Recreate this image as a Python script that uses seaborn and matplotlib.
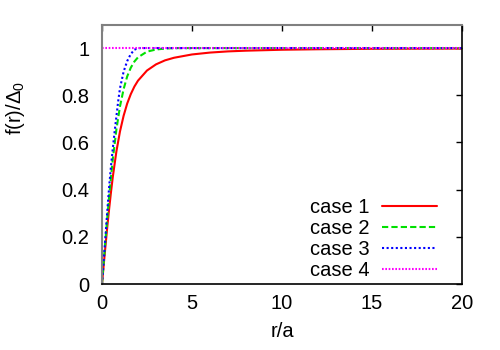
import matplotlib
matplotlib.use("Agg")
import matplotlib.pyplot as plt
import seaborn as sns
import pandas as pd

# ---- data ----
r_case1 = [0, 0.1, 0.2, 0.3, 0.4, 0.5, 0.6, 0.8, 1.0, 1.2, 1.4, 1.6, 1.8, 2.0,
           2.5, 3.0, 3.5, 4.0, 5.0, 6.0, 7.0, 8.0, 10.0, 12.0, 15.0, 20.0]
f_case1 = [0, 0.085, 0.167, 0.247, 0.321, 0.390, 0.454, 0.562, 0.647, 0.713,
           0.765, 0.805, 0.837, 0.862, 0.905, 0.931, 0.948, 0.959, 0.973,
           0.981, 0.986, 0.989, 0.993, 0.995, 0.997, 0.998]

r_case2 = [0, 0.1, 0.2, 0.3, 0.4, 0.5, 0.6, 0.8, 1.0, 1.2, 1.4, 1.6, 1.8, 2.0,
           2.5, 3.0, 3.5, 4.0, 20.0]
f_case2 = [0, 0.098, 0.194, 0.286, 0.373, 0.454, 0.529, 0.655, 0.753, 0.826,
           0.880, 0.917, 0.943, 0.961, 0.985, 0.994, 0.998, 1.0, 1.0]

r_case3 = [0, 0.1, 0.2, 0.3, 0.4, 0.5, 0.6, 0.7, 0.8, 0.9, 1.0, 1.2, 1.4, 1.6,
           1.8, 2.0, 20.0]
f_case3 = [0, 0.105, 0.21, 0.315, 0.415, 0.50, 0.575, 0.645, 0.71, 0.775,
           0.83, 0.90, 0.945, 0.975, 0.993, 1.0, 1.0]

r_case4 = [0, 20.0]
f_case4 = [1.0, 1.0]

labels = ["case 1", "case 2", "case 3", "case 4"]
colors = ["#ff0000", "#00e000", "#0000ff", "#ff00ff"]
styles = ["-", (0, (3, 1.5)), (0, (1, 1.2)), (0, (0.8, 0.8))]

x_ticks = [0, 5, 10, 15, 20]
y_ticks = [0, 0.2, 0.4, 0.6, 0.8, 1.0]
y_tick_labels = ["0", "0.2", "0.4", "0.6", "0.8", "1"]

FS = 14.5

sns.set_theme(style="white")
plt.rcParams["font.family"] = ["Liberation Sans", "DejaVu Sans"]
plt.rcParams["mathtext.fontset"] = "custom"
plt.rcParams["mathtext.rm"] = "Liberation Sans"
plt.rcParams["mathtext.it"] = "Liberation Sans"

fig = plt.figure(figsize=(5, 3.5), dpi=100)
ax = fig.add_axes([102 / 500, 1 - 284 / 350, 360 / 500, (284 - 24.5) / 350])

series = [(r_case1, f_case1), (r_case2, f_case2), (r_case3, f_case3), (r_case4, f_case4)]
for (rr, ff), lab, col, ls in zip(series, labels, colors, styles):
    df = pd.DataFrame({"r": rr, "f": ff})
    sns.lineplot(data=df, x="r", y="f", ax=ax, color=col, linestyle=ls,
                 linewidth=1.5, label=lab)

ax.set_xlim(0, 20)
ax.set_ylim(0, 1.1)
ax.set_xticks(x_ticks)
ax.set_xticklabels([str(t) for t in x_ticks])
ax.set_yticks(y_ticks)
ax.set_yticklabels(y_tick_labels)
ax.tick_params(direction="in", length=4, width=1, color="black",
               top=True, right=True, labelsize=FS, labelcolor="black")
ax.tick_params(axis="y", pad=9)
ax.tick_params(axis="x", pad=7)

for side in ["left", "top"]:
    ax.spines[side].set_color("#808080")
    ax.spines[side].set_linewidth(1.5)
for side in ["right", "bottom"]:
    ax.spines[side].set_color("black")
    ax.spines[side].set_linewidth(1.2)
for s in ax.spines.values():
    s.set_visible(True)

ax.set_xlabel("r/a", fontsize=FS, color="black", labelpad=7)
ax.set_ylabel(r"f(r)/$\mathregular{\Delta_0}$", fontsize=FS, color="black",
              va="center", ha="center")
ax.yaxis.set_label_coords(-0.24, 0.68)

leg = ax.legend(loc="lower right", bbox_to_anchor=(0.93, 0.015), frameon=False,
                markerfirst=False, fontsize=FS, handlelength=2.7,
                handletextpad=0.65, labelspacing=0.1, borderpad=0, borderaxespad=0)
for t in leg.get_texts():
    t.set_color("black")

fig.savefig("out.png", dpi=100)
